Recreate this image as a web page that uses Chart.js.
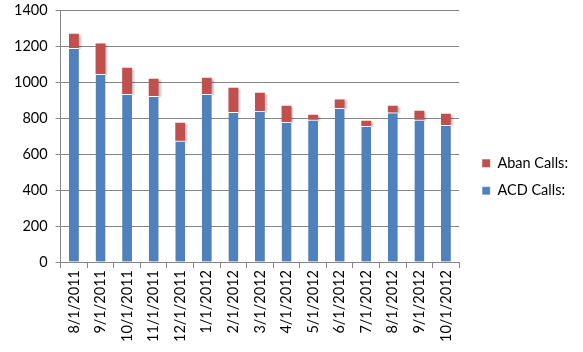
<!DOCTYPE html>
<html>
<head>
<meta charset="utf-8">
<script src="https://cdn.jsdelivr.net/npm/chart.js@4/dist/chart.umd.min.js"></script>
<style>
  html, body { margin: 0; padding: 0; background: #fff; }
  #wrap { width: 583px; height: 352px; }
</style>
</head>
<body>
<div id="wrap"><canvas id="grafico" width="583" height="352"></canvas></div>
<script>
// datos
const meses = ['8/1/2011', '9/1/2011', '10/1/2011', '11/1/2011', '12/1/2011', '1/1/2012', '2/1/2012',
  '3/1/2012', '4/1/2012', '5/1/2012', '6/1/2012', '7/1/2012', '8/1/2012', '9/1/2012', '10/1/2012'];
const acdCalls = [1189, 1044, 933, 922, 674, 933, 833, 839, 778, 791, 856, 756, 831, 791, 761];
const abanCalls = [79, 170, 146, 96, 100, 91, 135, 102, 90, 27, 47, 29, 37, 49, 63];
const ticksY = [0, 200, 400, 600, 800, 1000, 1200, 1400];

const fuente = { family: 'Lato', size: 14.5 };
const gris = '#868686';

// sombra suave a la derecha de las barras
const sombra = {
  id: 'sombra',
  beforeDatasetsDraw(chart) {
    const ctx = chart.ctx;
    ctx.save();
    ctx.shadowColor = 'rgba(0,0,0,0.25)';
    ctx.shadowOffsetX = 2;
    ctx.shadowOffsetY = 1;
    ctx.shadowBlur = 2;
  },
  afterDatasetsDraw(chart) {
    chart.ctx.restore();
  }
};

// correr la leyenda un poco a la derecha
const moverLeyenda = {
  id: 'moverLeyenda',
  afterLayout(chart) {
    chart.legend.left += 10;
    chart.legend.right += 10;
  }
};

new Chart(document.getElementById('grafico').getContext('2d'), {
  type: 'bar',
  data: {
    labels: meses,
    datasets: [{
      label: 'ACD Calls:',
      data: acdCalls,
      backgroundColor: '#4F81BD',
      borderColor: '#ffffff',
      borderWidth: { top: 1, left: 0, right: 0, bottom: 0 },
      borderSkipped: false,
      barPercentage: 0.37,
      categoryPercentage: 1
    }, {
      label: 'Aban Calls:',
      data: abanCalls,
      backgroundColor: '#C0504D',
      borderColor: '#ffffff',
      borderWidth: 0,
      barPercentage: 0.37,
      categoryPercentage: 1
    }]
  },
  options: {
    responsive: false,
    animation: false,
    layout: { padding: { left: 6, right: 15, top: 10, bottom: 8 } },
    plugins: {
      tooltip: { enabled: false },
      legend: {
        position: 'right',
        reverse: true,
        labels: {
          font: fuente,
          color: '#000',
          boxWidth: 8,
          boxHeight: 8,
          padding: 13
        }
      }
    },
    scales: {
      x: {
        stacked: true,
        grid: { display: true, drawOnChartArea: false, color: gris, tickLength: 6 },
        border: { color: gris },
        ticks: { font: fuente, color: '#000', minRotation: 90, maxRotation: 90, padding: 2 }
      },
      y: {
        stacked: true,
        min: 0,
        max: 1400,
        afterBuildTicks: (axis) => { axis.ticks = ticksY.map(v => ({ value: v })); },
        afterFit: (axis) => { axis.paddingTop = 0; },
        grid: { color: gris, tickLength: 5 },
        border: { color: gris },
        ticks: { font: fuente, color: '#000', padding: 8, callback: (v) => String(v) }
      }
    }
  },
  plugins: [sombra, moverLeyenda]
});
</script>
</body>
</html>
